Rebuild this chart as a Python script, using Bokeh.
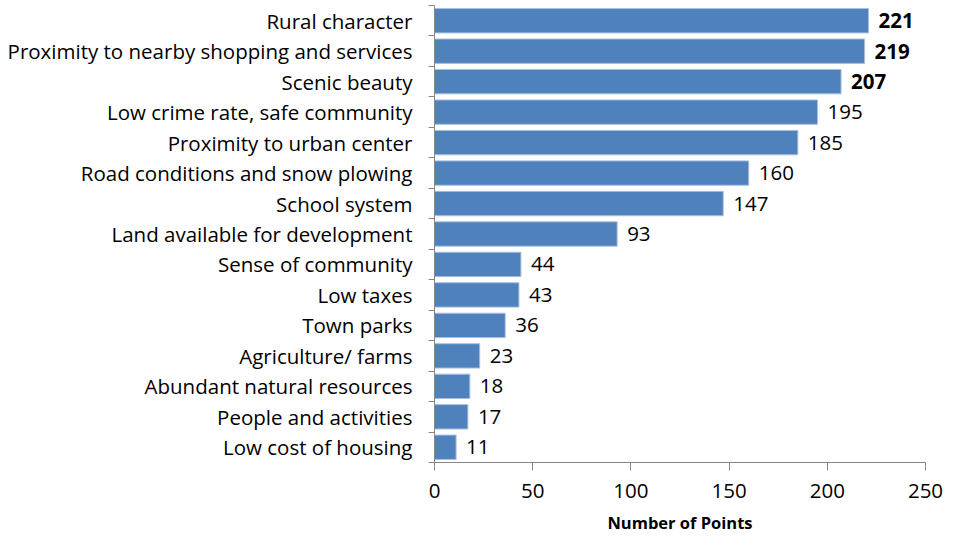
from bokeh.plotting import figure
from bokeh.models import ColumnDataSource, FixedTicker, Range1d, LabelSet
from bokeh.core.properties import value
from bokeh.embed import file_html
from bokeh.resources import INLINE

categories = ["Rural character", "Proximity to nearby shopping and services", "Scenic beauty",
              "Low crime rate, safe community", "Proximity to urban center",
              "Road conditions and snow plowing", "School system", "Land available for development",
              "Sense of community", "Low taxes", "Town parks", "Agriculture/ farms",
              "Abundant natural resources", "People and activities", "Low cost of housing"]
points = [221, 219, 207, 195, 185, 160, 147, 93, 44, 43, 36, 23, 18, 17, 11]
bold_labels = [True, True, True] + [False] * 12
x_ticks = [0, 50, 100, 150, 200, 250]

n = len(categories)
ypos = [n - 1 - i for i in range(n)]
src = ColumnDataSource(dict(y=ypos, v=points))

FONT = "Open Sans"
FS = "20.5px"
p = figure(width=957, height=536, output_backend="svg", toolbar_location=None,
           x_range=Range1d(0, 250), y_range=Range1d(-0.5, n - 0.5),
           min_border_left=434, min_border_right=32, min_border_top=5, min_border_bottom=73)
p.outline_line_color = None
p.grid.grid_line_color = None
p.background_fill_color = "white"

p.hbar(y="y", right="v", left=0, height=0.8, source=src, fill_color="#4F81BD",
       line_color="#a9bfdf", line_width=1)

for st, flag in [("bold", True), ("normal", False)]:
    idx = [i for i in range(n) if bold_labels[i] == flag]
    s2 = ColumnDataSource(dict(y=[ypos[i] for i in idx], v=[points[i] for i in idx],
                               lab=[str(points[i]) for i in idx]))
    p.add_layout(LabelSet(x="v", y="y", text="lab", source=s2, x_offset=10,
                          text_baseline="middle", text_font=value(FONT),
                          text_font_size=value(FS),
                          text_font_style=value(st), text_color="black"))

# y axis
ya = p.yaxis[0]
ya.ticker = FixedTicker(ticks=ypos, minor_ticks=[i - 0.5 for i in range(n + 1)])
ya.major_label_overrides = {ypos[i]: categories[i] for i in range(n)}
ya.major_tick_line_color = None
ya.major_tick_out = 0
ya.minor_tick_out = 6
ya.minor_tick_in = 0
ya.minor_tick_line_color = "#868686"
ya.axis_line_color = "#868686"
ya.major_label_standoff = 16
ya.major_label_text_font = FONT
ya.major_label_text_font_size = FS
ya.major_label_text_color = "black"

xa = p.xaxis[0]
xa.ticker = FixedTicker(ticks=x_ticks, minor_ticks=[])
xa.major_tick_out = 8
xa.major_tick_in = 0
xa.major_tick_line_color = "#868686"
xa.axis_line_color = "#868686"
xa.major_label_standoff = 13
xa.major_label_text_font = FONT
xa.major_label_text_font_size = FS
xa.major_label_text_color = "black"
xa.axis_label = "Number of Points"
xa.axis_label_text_font = FONT
xa.axis_label_text_font_size = "16.5px"
xa.axis_label_text_font_style = "bold"
xa.axis_label_text_color = "black"
xa.axis_label_standoff = 10

open("out.html", "w").write(file_html(p, INLINE))
